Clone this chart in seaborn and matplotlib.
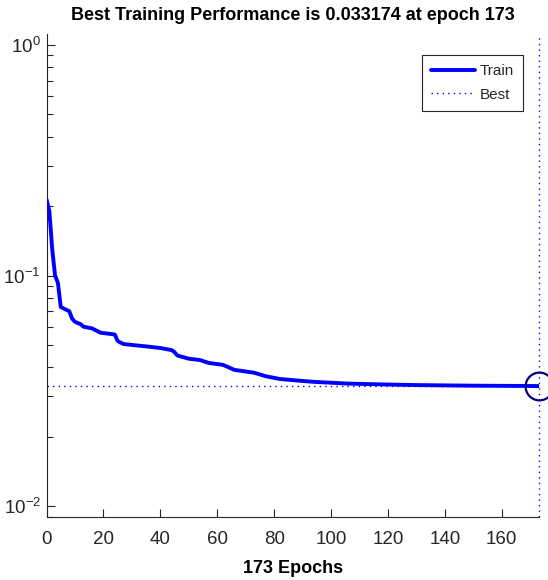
import matplotlib
matplotlib.use('Agg')
from matplotlib import pyplot as plt
import numpy as np
import pandas as pd
import seaborn as sns

# performance curve
epochs = [0, 1, 2, 3, 4, 5, 7, 8, 9, 10, 12, 13, 16, 19, 23, 24, 25, 27, 30, 35,
          40, 44, 45, 46, 50, 54, 57, 62, 64, 66, 73, 77, 82, 90, 94, 106, 119,
          130, 140, 150, 160, 173]
train_perf = [0.214, 0.19, 0.13, 0.100, 0.093, 0.073, 0.071, 0.070, 0.065, 0.063,
              0.0615, 0.060, 0.059, 0.0565, 0.0557, 0.0555, 0.052, 0.0505, 0.050,
              0.0493, 0.0485, 0.0475, 0.0465, 0.045, 0.0436, 0.043, 0.0418, 0.041,
              0.040, 0.039, 0.0379, 0.0366, 0.0356, 0.0349, 0.0346, 0.0340, 0.0337,
              0.0335, 0.0334, 0.0333, 0.03325, 0.033174]
best_epoch = 173
best_perf = 0.033174
xticks = [0, 20, 40, 60, 80, 100, 120, 140, 160]

sns.set_style("ticks")
plt.rcParams['font.family'] = ['Liberation Sans', 'DejaVu Sans']

df = pd.DataFrame({'epoch': epochs, 'perf': train_perf})

fig = plt.figure(figsize=(5.48, 5.8), dpi=100)
ax = fig.add_axes([0.0849, 0.1091, 0.8982, 0.8324])

sns.lineplot(data=df, x='epoch', y='perf', ax=ax, color=(0, 0, 1), lw=2.8,
             label='Train', zorder=3)
ax.axhline(best_perf, color=(0, 0, 1), lw=1, ls=(0, (1, 3)), label='Best', zorder=2)
ax.axvline(best_epoch, color=(0, 0, 1), lw=1, ls=(0, (1, 3)), zorder=2, clip_on=False)
ax.plot([best_epoch], [best_perf], marker='o', ms=20, mfc='none', mec=(0, 0, 0.5),
        mew=1.6, clip_on=False, zorder=4)

ax.set_yscale('log')
ax.set_xlim(0, 173)
ax.set_ylim(0.0090, 1.116)
ax.set_xticks(xticks)
ax.tick_params(axis='both', which='major', direction='in', length=6, width=0.8,
               labelsize=13.5, colors='#262626', labelcolor='#262626', pad=10)
ax.tick_params(axis='y', which='minor', direction='in', length=4, width=0.8, colors='#262626')
ax.tick_params(axis='y', pad=4)
sns.despine(ax=ax)
for s in ('left', 'bottom'):
    ax.spines[s].set_color('#262626')
    ax.spines[s].set_linewidth(0.8)

ax.set_xlabel('173 Epochs', fontsize=13, fontweight='bold', labelpad=9, color='black')
ax.set_ylabel('')
ax.set_title('Best Training Performance is 0.033174 at epoch 173', fontsize=13,
             fontweight='bold', pad=10, color='black')

leg = ax.legend(loc='upper right', bbox_to_anchor=(0.968, 0.956), borderaxespad=0,
                fontsize=11, frameon=True, fancybox=False, edgecolor='#262626',
                framealpha=1, handlelength=2.9, borderpad=0.6, handletextpad=0.3,
                labelspacing=0.6)
leg.get_frame().set_linewidth(0.8)

fig.savefig('out.png', dpi=100)
